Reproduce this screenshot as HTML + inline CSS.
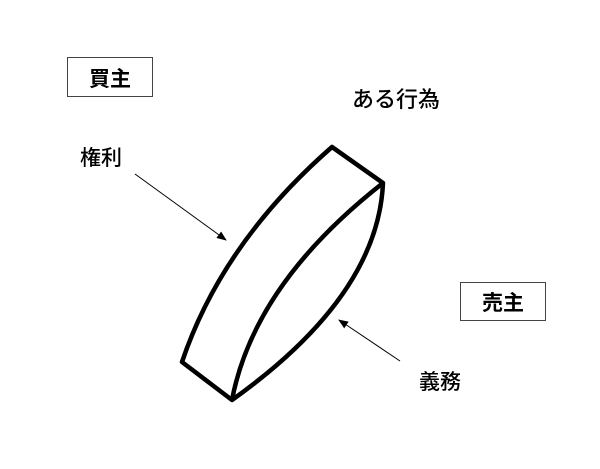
<!DOCTYPE html>
<html><head><meta charset="utf-8"><style>
body{margin:0;background:#fff;}
</style></head><body>
<svg width="600" height="469" xmlns="http://www.w3.org/2000/svg" style="display:block">
<defs><marker id="a" markerWidth="10" markerHeight="8" refX="9" refY="4" orient="auto" markerUnits="userSpaceOnUse"><path d="M0,0 L10,4 L0,8 z" fill="#000"/></marker></defs>
<g font-family="'Liberation Sans','Noto Sans CJK JP',sans-serif" fill="#000">
<rect x="67.5" y="57.5" width="85" height="39" fill="#fff" stroke="#444" stroke-width="1"/>
<text x="110" y="86" font-size="21" font-weight="bold" text-anchor="middle">買主</text>
<rect x="460.5" y="282.5" width="85" height="38" fill="#fff" stroke="#444" stroke-width="1"/>
<text x="503" y="310" font-size="21" font-weight="bold" text-anchor="middle">売主</text>
<text x="396" y="107" font-size="22" font-weight="500" text-anchor="middle">ある行為</text>
<text x="101" y="165" font-size="21" font-weight="500" text-anchor="middle">権利</text>
<text x="440" y="389" font-size="21" font-weight="500" text-anchor="middle">義務</text>
</g>
<line x1="135" y1="174" x2="226" y2="240" stroke="#000" stroke-width="1" marker-end="url(#a)"/>
<line x1="400" y1="361" x2="339" y2="320" stroke="#000" stroke-width="1" marker-end="url(#a)"/>
<g fill="none" stroke="#000" stroke-width="4.5" stroke-linejoin="round">
<path d="M182,362 Q222,243 332,147 L383,183 Q378,296 232,400 Z"/>
<path d="M383,183 Q254,284 232,400"/>
</g>
</svg>
</body></html>
